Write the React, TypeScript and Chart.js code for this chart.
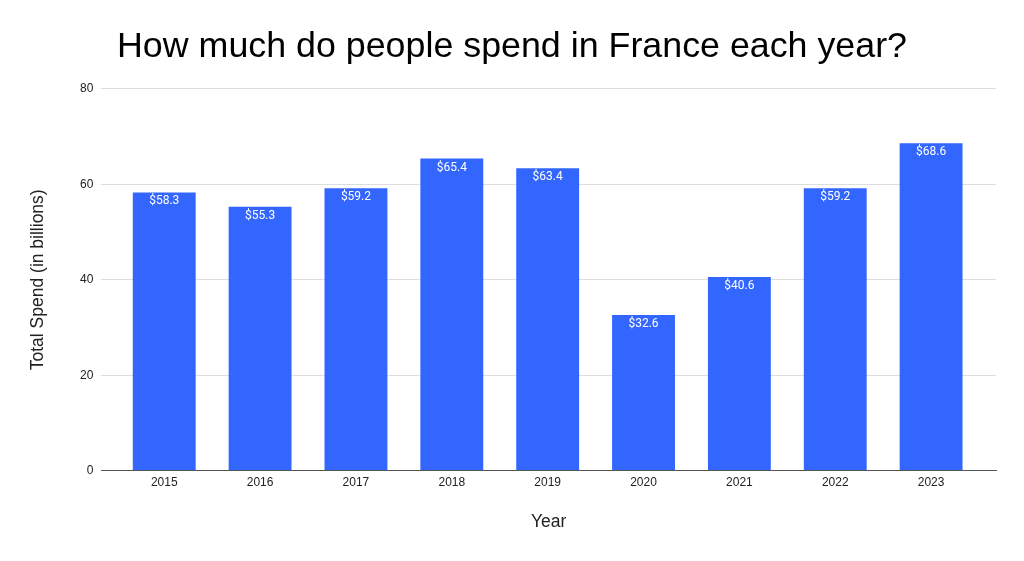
import React, { useRef, useEffect } from "react";
import { Chart, registerables, Plugin } from "chart.js";

Chart.register(...registerables);

// chart values
const years = ["2015", "2016", "2017", "2018", "2019", "2020", "2021", "2022", "2023"];
const totalSpend = [58.3, 55.3, 59.2, 65.4, 63.4, 32.6, 40.6, 59.2, 68.6];
const yTicks = [0, 20, 40, 60, 80];
const barColor = "#3366ff";

const sans = "'Liberation Sans', Arial, sans-serif";

// draws "$xx.x" in white just below the top of each bar
const barLabels: Plugin<"bar"> = {
  id: "barLabels",
  afterDatasetsDraw(chart) {
    const ctx = chart.ctx;
    const meta = chart.getDatasetMeta(0);
    ctx.save();
    ctx.fillStyle = "#ffffff";
    ctx.font = "12px Roboto, 'Liberation Sans', sans-serif";
    ctx.textAlign = "center";
    ctx.textBaseline = "middle";
    meta.data.forEach((bar, i) => {
      ctx.fillText("$" + totalSpend[i].toFixed(1), bar.x, bar.y + 9);
    });
    ctx.restore();
  },
};

export default function App() {
  const canvasRef = useRef<HTMLCanvasElement>(null);

  useEffect(() => {
    document.body.style.margin = "0";
    if (!canvasRef.current) return;
    const chart = new Chart(canvasRef.current, {
      type: "bar",
      data: {
        datasets: [
          {
            label: "Total Spend",
            data: totalSpend.map((v, i) => ({ x: i, y: v })),
            backgroundColor: barColor,
            borderWidth: 0,
            barPercentage: 0.82,
            categoryPercentage: 0.8,
          },
        ],
      },
      options: {
        responsive: false,
        animation: false,
        layout: { padding: { left: 28, right: 28, top: 0, bottom: 28 } },
        plugins: {
          legend: { display: false },
          tooltip: { enabled: false },
          title: {
            display: true,
            text: "How much do people spend in France each year?",
            color: "#000000",
            font: { family: sans, size: 35.8, weight: "normal" },
            padding: { top: 26, bottom: 20 },
          },
        },
        scales: {
          x: {
            type: "linear",
            offset: false,
            // Sheets-style inset: bars sit inside the gridline span
            min: -0.656,
            max: 8.677,
            afterBuildTicks: (scale) => {
              scale.ticks = years.map((_, i) => ({ value: i }));
            },
            grid: { display: false, drawTicks: false },
            border: { display: true, color: "#555555", width: 1 },
            ticks: {
              autoSkip: false,
              maxRotation: 0,
              callback: (value) => years[value as number] ?? "",
              color: "#222222",
              font: { family: sans, size: 12 },
              padding: 5,
            },
            title: {
              display: true,
              text: "Year",
              color: "#222222",
              font: { family: sans, size: 17.5 },
              padding: { top: 17, bottom: 0 },
            },
          },
          y: {
            min: 0,
            max: 80,
            afterBuildTicks: (scale) => {
              scale.ticks = yTicks.map((v) => ({ value: v }));
            },
            ticks: {
              color: "#222222",
              font: { family: sans, size: 12 },
              padding: 8,
            },
            grid: { color: "#dddddd", drawTicks: false },
            border: { display: false },
            title: {
              display: true,
              text: "Total Spend (in billions)",
              color: "#222222",
              font: { family: sans, size: 17.5 },
              padding: { top: 0, bottom: 23 },
            },
          },
        },
      },
      plugins: [barLabels],
    });
    return () => chart.destroy();
  }, []);

  return (
    <div style={{ width: 1024, height: 561, background: "#ffffff" }}>
      <canvas ref={canvasRef} width={1024} height={561}></canvas>
    </div>
  );
}
